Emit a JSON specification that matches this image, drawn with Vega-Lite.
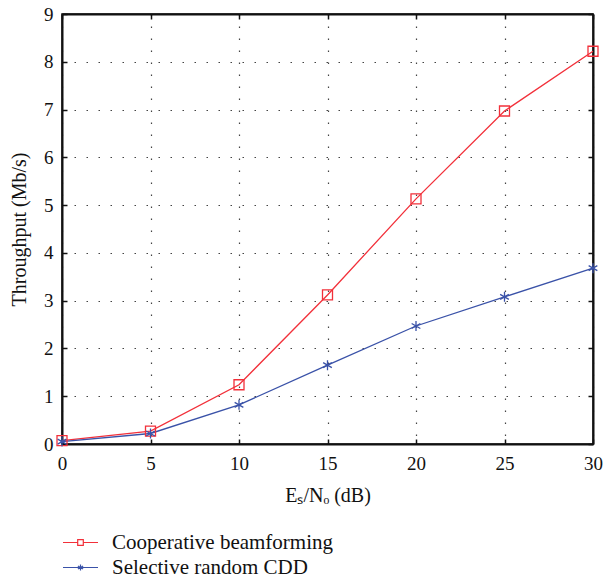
{
  "$schema": "https://vega.github.io/schema/vega-lite/v6.json",
  "width": 531,
  "height": 430,
  "autosize": {"type": "none"},
  "padding": {"left": 62, "top": 14, "right": 12, "bottom": 134},
  "background": "white",
  "config": {
    "font": "Liberation Serif",
    "view": {"stroke": "#000", "strokeWidth": 1.5},
    "axis": {
      "domainColor": "#111",
      "domainWidth": 2,
      "tickColor": "#111",
      "tickWidth": 1.5,
      "tickSize": -5,
      "labelFont": "Liberation Serif",
      "labelFontSize": 19,
      "labelColor": "#111",
      "titleFont": "Liberation Serif",
      "titleFontSize": 20,
      "titleFontWeight": "normal",
      "titleColor": "#111",
      "gridColor": "#444",
      "gridDash": [1.5, 10.5],
      "gridWidth": 1.2
    },
    "legend": {
      "title": null,
      "orient": "none",
      "direction": "vertical",
      "labelFont": "Liberation Serif",
      "labelFontSize": 21,
      "labelColor": "#111",
      "labelLimit": 0,
      "symbolSize": 1225,
      "symbolStrokeWidth": 1.2,
      "symbolFillColor": "transparent",
      "labelOffset": 13
    }
  },
  "data": {
    "values": [
      {"snr": 0, "tp": 0.07, "scheme": "Cooperative beamforming"},
      {"snr": 5, "tp": 0.27, "scheme": "Cooperative beamforming"},
      {"snr": 10, "tp": 1.24, "scheme": "Cooperative beamforming"},
      {"snr": 15, "tp": 3.12, "scheme": "Cooperative beamforming"},
      {"snr": 20, "tp": 5.13, "scheme": "Cooperative beamforming"},
      {"snr": 25, "tp": 6.97, "scheme": "Cooperative beamforming"},
      {"snr": 30, "tp": 8.22, "scheme": "Cooperative beamforming"},
      {"snr": 0, "tp": 0.05, "scheme": "Selective random CDD"},
      {"snr": 5, "tp": 0.22, "scheme": "Selective random CDD"},
      {"snr": 10, "tp": 0.82, "scheme": "Selective random CDD"},
      {"snr": 15, "tp": 1.65, "scheme": "Selective random CDD"},
      {"snr": 20, "tp": 2.47, "scheme": "Selective random CDD"},
      {"snr": 25, "tp": 3.08, "scheme": "Selective random CDD"},
      {"snr": 30, "tp": 3.68, "scheme": "Selective random CDD"}
    ]
  },
  "layer": [
    {
      "mark": {"type": "line", "strokeWidth": 1.3},
      "encoding": {
        "x": {
          "field": "snr", "type": "quantitative",
          "scale": {"domain": [0, 30], "nice": false, "zero": false},
          "axis": {"values": [0, 5, 10, 15, 20, 25, 30], "grid": true, "title": "Eₛ/Nₒ (dB)", "titlePadding": 12, "labelPadding": 15, "labelFlush": false}
        },
        "y": {
          "field": "tp", "type": "quantitative",
          "scale": {"domain": [0, 9], "nice": false},
          "axis": {"values": [0, 1, 2, 3, 4, 5, 6, 7, 8, 9], "grid": true, "title": "Throughput (Mb/s)", "titlePadding": 14, "labelPadding": 14, "labelFlush": false}
        },
        "color": {
          "field": "scheme", "type": "nominal",
          "scale": {"domain": ["Cooperative beamforming", "Selective random CDD"], "range": ["#f2303a", "#3a52a8"]},
          "legend": {
            "values": ["Cooperative beamforming"],
            "legendX": 0,
            "legendY": 510,
            "symbolType": "M-1,0H-0.16M0.16,0H1M-0.16,-0.16H0.16V0.16H-0.16Z"
          }
        }
      }
    },
    {
      "mark": {"type": "point", "filled": false, "strokeWidth": 1.3, "opacity": 1},
      "encoding": {
        "x": {
          "field": "snr", "type": "quantitative",
          "scale": {"domain": [0, 30], "nice": false, "zero": false},
          "axis": {"orient": "top", "values": [0, 5, 10, 15, 20, 25, 30], "labels": false, "grid": false, "title": null}
        },
        "y": {
          "field": "tp", "type": "quantitative",
          "scale": {"domain": [0, 9], "nice": false},
          "axis": {"orient": "right", "values": [0, 1, 2, 3, 4, 5, 6, 7, 8, 9], "labels": false, "grid": false, "title": null}
        },
        "color": {
          "field": "scheme", "type": "nominal",
          "scale": {"domain": ["Cooperative beamforming", "Selective random CDD"], "range": ["#f2303a", "#3a52a8"]},
          "legend": {
            "values": ["Selective random CDD"],
            "legendX": 0,
            "legendY": 535,
            "symbolType": "M-1,0H1M0,-0.17V0.17M-0.15,-0.085L0.15,0.085M-0.15,0.085L0.15,-0.085"
          }
        },
        "shape": {
          "field": "scheme", "type": "nominal",
          "scale": {"domain": ["Cooperative beamforming", "Selective random CDD"], "range": ["square", "M0,-1V1M-0.87,-0.5L0.87,0.5M-0.87,0.5L0.87,-0.5"]},
          "legend": null
        },
        "size": {"value": 100}
      }
    }
  ],
  "resolve": {
    "scale": {"x": "independent", "y": "independent", "color": "independent"},
    "legend": {"color": "independent"}
  }
}
